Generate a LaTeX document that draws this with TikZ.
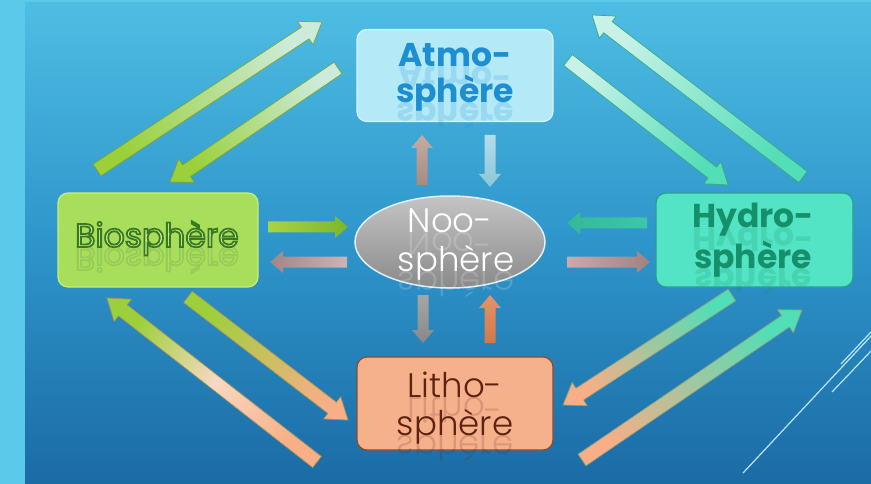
\documentclass[tikz,border=0pt]{standalone}
\usepackage{fontspec}
\setmainfont{Poppins}
\newfontfamily\lightfont{Poppins Light}
\usetikzlibrary{calc,shapes.geometric}
\definecolor{strip}{HTML}{5BC9EA}
\definecolor{bgtop}{HTML}{4EBDE3}
\definecolor{bgmid}{HTML}{2E95CA}
\definecolor{bgbot}{HTML}{1B6BA5}
\definecolor{atmofill}{HTML}{B4E9F7}
\definecolor{atmoedge}{HTML}{D6F4FC}
\definecolor{atmotext}{HTML}{1E8ED3}
\definecolor{biofill}{HTML}{A9DE5C}
\definecolor{bioedge}{HTML}{C6EE78}
\definecolor{biodark}{HTML}{3A7A1E}
\definecolor{biolight}{HTML}{CFEFA4}
\definecolor{hydfill}{HTML}{52E4C4}
\definecolor{hydedge}{HTML}{2C9C92}
\definecolor{hydtext}{HTML}{15906A}
\definecolor{litfill}{HTML}{F5B08C}
\definecolor{litedge}{HTML}{8C4C2C}
\definecolor{littext}{HTML}{5E2210}
\definecolor{nootop}{HTML}{C4C4C4}
\definecolor{noobot}{HTML}{8A8A8A}
\definecolor{nooedge}{HTML}{DDF0F8}
\definecolor{green}{HTML}{9CD03A}
\definecolor{palegreen}{HTML}{CDEBDA}
\definecolor{teal}{HTML}{52DEB6}
\definecolor{paleteal}{HTML}{C8F2E6}
\definecolor{peach}{HTML}{F8AE86}
\definecolor{palepeach}{HTML}{F8D8C2}
\definecolor{deco}{HTML}{B8E6F6}
\definecolor{s1a}{HTML}{A88A80}\definecolor{s1b}{HTML}{C8AAA2}
\definecolor{s2a}{HTML}{B2DDEA}\definecolor{s2b}{HTML}{8CC6D8}
\definecolor{s3a}{HTML}{A8D444}\definecolor{s3b}{HTML}{7CB62C}
\definecolor{s4a}{HTML}{CDB4B4}\definecolor{s4b}{HTML}{A08686}
\definecolor{s5a}{HTML}{3CC8A6}\definecolor{s5b}{HTML}{34B898}
\definecolor{s6a}{HTML}{CAAAAA}\definecolor{s6b}{HTML}{A08282}
\definecolor{s7a}{HTML}{A6A6A6}\definecolor{s7b}{HTML}{888888}
\definecolor{s8a}{HTML}{D27848}\definecolor{s8b}{HTML}{E49468}
\tikzset{
  box/.style={rectangle, rounded corners=10pt, line width=1.2pt},
  lbl/.style={anchor=base, inner sep=0pt, font=\fontsize{33}{33}\selectfont},
  lightlbl/.style={font=\fontsize{34}{34}\selectfont\lightfont},
  boldlbl/.style={font=\fontsize{33}{33}\selectfont\bfseries},
  bigarr/.style={line width=0.7pt, line join=round},
}
% outlined text: light fill, dark green stroke
\newcommand\outlined[1]{\special{pdf:literal direct 2 Tr 1.8 w 0.227 0.478 0.118 RG}#1\special{pdf:literal direct 0 Tr}}
\newcommand\baw{7pt}
\newcommand\bahw{14pt}
\newcommand\bahl{20pt}
% block arrow: [style]{from}{to}{tail colour}{head colour}
\newcommand\blockarrow[5][]{%
  \pgfmathanglebetweenpoints{\pgfpointanchor{#2}{center}}{\pgfpointanchor{#3}{center}}%
  \pgfmathsetmacro\baang{\pgfmathresult-90}%
  \coordinate (bah) at ($(#3)!\bahl!(#2)$);
  \shade[top color=#5, bottom color=#4, shading angle=\baang, bigarr, #1]
    ($(#2)!\baw!90:(#3)$) -- ($(bah)!\baw!90:(#3)$) -- ($(bah)!\bahw!90:(#3)$) -- (#3)
    -- ($(bah)!\bahw!-90:(#3)$) -- ($(bah)!\baw!-90:(#3)$) -- ($(#2)!\baw!-90:(#3)$) -- cycle;
}
% text line with reflection: [style]{name}{position}{text}
\newcommand\txtline[4][]{%
  \node[lbl,#1,text opacity=0.18] (#2r) at #3 {\scalebox{1}[-1]{#4}};
  \node[lbl,#1] (#2) at #3 {#4};
}
\begin{document}
\begin{tikzpicture}[x=1pt,y=-1pt]
\useasboundingbox (0,0) rectangle (871,484);
% background
\fill[strip] (0,0) rectangle (871,484);
\shade[top color=bgtop, bottom color=bgbot, middle color=bgmid] (25,3) rectangle (871,484);
% decorative lines
\coordinate (d1s) at (743,473); \coordinate (d1e) at (871,336);
\coordinate (d2s) at (841,364); \coordinate (d2e) at (871,332);
\coordinate (d3s) at (832,392); \coordinate (d3e) at (871,351);
\draw[deco, line width=1.2pt] (d1s) -- (d1e);
\draw[deco, line width=1.2pt] (d2s) -- (d2e);
\draw[deco, line width=1.2pt] (d3s) -- (d3e);
% boxes
\node[box, fill=atmofill, draw=atmoedge, minimum width=196pt, minimum height=92pt] (atmo) at (455,75.5) {};
\node[box, fill=biofill, draw=bioedge, minimum width=200pt, minimum height=94pt] (bio) at (158,240) {};
\node[box, fill=hydfill, draw=hydedge, minimum width=197pt, minimum height=94pt] (hydro) at (754.5,240) {};
\node[box, fill=litfill, draw=litedge, minimum width=196pt, minimum height=93pt] (litho) at (455,403.5) {};
\node[ellipse, top color=nootop, bottom color=noobot, draw=nooedge, line width=1.5pt, minimum width=190pt, minimum height=92pt] (noo) at (450,242) {};
% texts
\txtline[text=atmotext, boldlbl]{ta1}{(455,67)}{Atmo-}
\txtline[text=atmotext, boldlbl]{ta2}{(455,103)}{sphère}
\txtline[text=hydtext, boldlbl]{th1}{(753,228)}{Hydro-}
\txtline[text=hydtext, boldlbl]{th2}{(753,268)}{sphère}
\txtline[text=littext, lightlbl]{tl1}{(455,397)}{Litho-}
\txtline[text=littext, lightlbl]{tl2}{(455,435)}{sphère}
\txtline[text=white, lightlbl]{tn1}{(450,233)}{Noo-}
\txtline[text=white, lightlbl]{tn2}{(456,272)}{sphère}
\txtline[text=biolight]{tb}{(157,247)}{\outlined{Biosphère}}
% big arrows
\coordinate (a1s) at (97,170);  \coordinate (a1e) at (322,22);
\coordinate (a2s) at (338,68);  \coordinate (a2e) at (170,182);
\coordinate (a3s) at (568,60);  \coordinate (a3e) at (728,185);
\coordinate (a4s) at (803,177); \coordinate (a4e) at (592,15);
\coordinate (a5s) at (317,462); \coordinate (a5e) at (107,298);
\coordinate (a6s) at (188,297); \coordinate (a6e) at (348,420);
\coordinate (a7s) at (732,295); \coordinate (a7e) at (563,405);
\coordinate (a8s) at (582,460); \coordinate (a8e) at (802,310);
\blockarrow[draw=green!80!black]{a1s}{a1e}{green}{palegreen}
\blockarrow[draw=green!80!black]{a2s}{a2e}{palegreen}{green}
\blockarrow[draw=teal!75!black]{a3s}{a3e}{paleteal}{teal}
\blockarrow[draw=teal!75!black]{a4s}{a4e}{teal}{paleteal}
\blockarrow[draw=peach!60!green!80!black, middle color=palepeach]{a5s}{a5e}{peach}{green}
\blockarrow[draw=peach!60!green!80!black]{a6s}{a6e}{green}{peach}
\blockarrow[draw=peach!50!teal!80!black]{a7s}{a7e}{teal}{peach}
\blockarrow[draw=peach!50!teal!80!black]{a8s}{a8e}{peach}{teal}
% small arrows
\renewcommand\baw{5.5pt}
\renewcommand\bahw{11pt}
\renewcommand\bahl{13pt}
\coordinate (s1s) at (422,185); \coordinate (s1e) at (422,135);
\coordinate (s2s) at (490,135); \coordinate (s2e) at (490,187);
\coordinate (s3s) at (268,227); \coordinate (s3e) at (348,227);
\coordinate (s4s) at (347,262); \coordinate (s4e) at (270,262);
\coordinate (s5s) at (647,223); \coordinate (s5e) at (567,223);
\coordinate (s6s) at (567,262); \coordinate (s6e) at (650,262);
\coordinate (s7s) at (423,295); \coordinate (s7e) at (423,343);
\coordinate (s8s) at (490,343); \coordinate (s8e) at (490,295);
\blockarrow[draw=none]{s1s}{s1e}{s1a}{s1b}
\blockarrow[draw=none]{s2s}{s2e}{s2a}{s2b}
\blockarrow[draw=none]{s3s}{s3e}{s3a}{s3b}
\blockarrow[draw=none]{s4s}{s4e}{s4a}{s4b}
\blockarrow[draw=none]{s5s}{s5e}{s5a}{s5b}
\blockarrow[draw=none]{s6s}{s6e}{s6a}{s6b}
\blockarrow[draw=none]{s7s}{s7e}{s7a}{s7b}
\blockarrow[draw=none]{s8s}{s8e}{s8a}{s8b}
\end{tikzpicture}
\end{document}
